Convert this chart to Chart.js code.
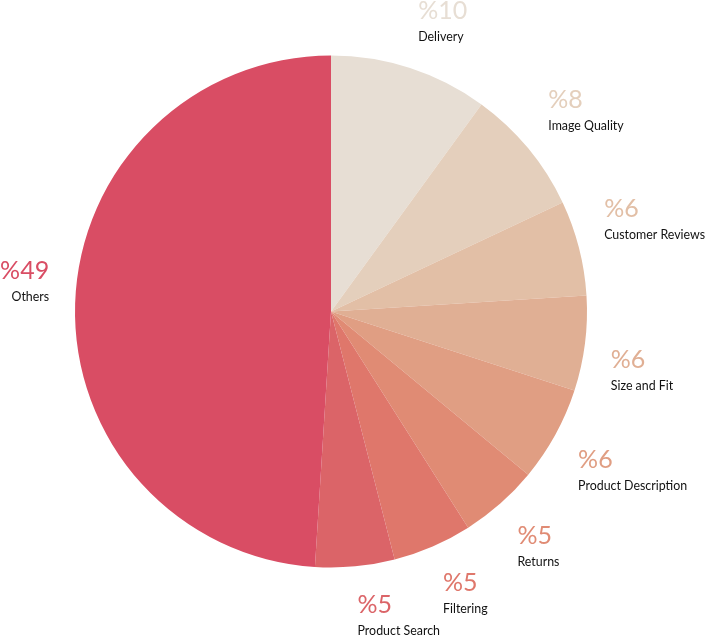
<!DOCTYPE html>
<html lang="en">
<head>
    <meta charset="UTF-8">
    <title>Feedback topics</title>
    <script src="https://cdn.jsdelivr.net/npm/chart.js"></script>
    <style>
        * {
            margin: 0;
            padding: 0;
            box-sizing: border-box;
        }
        body {
            background: #fff;
            width: 705px;
            height: 635px;
            overflow: hidden;
        }
        canvas {
            display: block;
        }
    </style>
</head>
<body>
    <canvas id="myChart" width="705" height="635"></canvas>
    <script>
        // data, clockwise from 12 o'clock
        const categories = ['Delivery', 'Image Quality', 'Customer Reviews', 'Size and Fit',
            'Product Description', 'Returns', 'Filtering', 'Product Search', 'Others'];
        const shares = [10, 8, 6, 6, 6, 5, 5, 5, 49];
        const sliceColors = ['#E7DED4', '#E4CFBC', '#E2BFA6', '#E0AF94', '#E09E83',
            '#E08B74', '#DF776B', '#DB6468', '#D94D64'];

        const LABEL_GAP = 26;

        // draws "%N" + category name just outside each slice
        const outsideLabels = {
            id: 'outsideLabels',
            afterDatasetsDraw(chart) {
                const ctx = chart.ctx;
                const meta = chart.getDatasetMeta(0);
                meta.data.forEach((arc, i) => {
                    const p = arc.getProps(['x', 'y', 'startAngle', 'endAngle', 'outerRadius'], true);
                    const mid = (p.startAngle + p.endAngle) / 2;
                    const d = p.outerRadius + LABEL_GAP;
                    const ax = p.x + Math.cos(mid) * d;
                    const ay = p.y + Math.sin(mid) * d;
                    const onRight = Math.cos(mid) >= 0;
                    const onTop = Math.sin(mid) < 0;
                    let pctBase, nameBase;
                    if (onTop) {
                        nameBase = ay - 2;
                        pctBase = nameBase - 22;
                    } else {
                        pctBase = ay + 21;
                        nameBase = pctBase + 22;
                    }
                    ctx.save();
                    ctx.textAlign = onRight ? 'left' : 'right';
                    ctx.textBaseline = 'alphabetic';
                    ctx.fillStyle = sliceColors[i];
                    ctx.font = '25px Lato, "Open Sans", sans-serif';
                    ctx.fillText('%' + shares[i], ax, pctBase);
                    ctx.fillStyle = '#111';
                    ctx.font = '12.4px Lato, "Open Sans", sans-serif';
                    ctx.fillText(categories[i], ax, nameBase);
                    ctx.restore();
                });
            }
        };

        const ctx = document.getElementById('myChart').getContext('2d');
        new Chart(ctx, {
            type: 'pie',
            data: {
                labels: categories,
                datasets: [{
                    data: shares,
                    backgroundColor: sliceColors,
                    borderWidth: 0
                }]
            },
            options: {
                responsive: false,
                animation: false,
                layout: {
                    padding: { left: 75, right: 118, top: 55.5, bottom: 67.5 }
                },
                plugins: {
                    legend: { display: false },
                    tooltip: { enabled: false }
                }
            },
            plugins: [outsideLabels]
        });
    </script>
</body>
</html>
